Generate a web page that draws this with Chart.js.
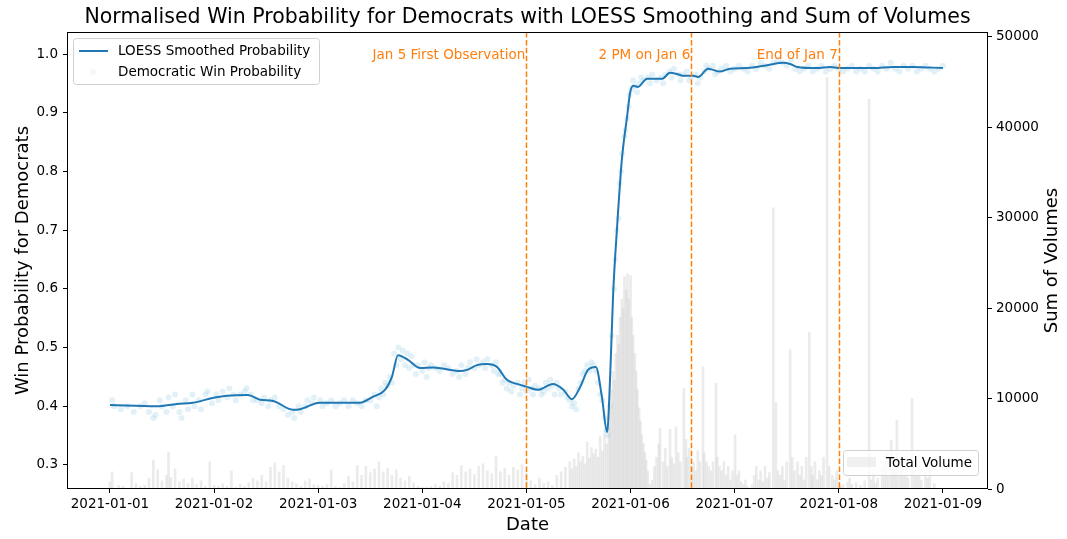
<!DOCTYPE html>
<html><head><meta charset="utf-8">
<script src="https://cdn.jsdelivr.net/npm/chart.js@4.4.1/dist/chart.umd.min.js"></script>
<style>html,body{margin:0;padding:0;background:#fff;}#wrap{width:1067px;height:539px;position:relative;}</style>
</head><body><div id="wrap"><canvas id="c" width="1067" height="539"></canvas></div>
<script>
// x values are hours after 2021-01-01 00:00
const tickHours = [0,24,48,72,96,120,144,168,192];
const tickLabels = ['2021-01-01','2021-01-02','2021-01-03','2021-01-04','2021-01-05','2021-01-06','2021-01-07','2021-01-08','2021-01-09'];
const probTicks = [0.3,0.4,0.5,0.6,0.7,0.8,0.9,1.0];
const volTicks = [0,10000,20000,30000,40000,50000];

const loessHours = [0,10.8,15.4,19.1,23.7,27.0,31.8,34.6,37.6,42.2,43.8,48.4,57.6,60.6,63.4,65.0,66.4,68.7,71.5,74.5,80.7,82.3,84.6,86.9,89.2,91.5,93.8,96.1,98.7,102.1,104.4,106.5,108.4,110.2,112.0,113.4,114.6,115.3,116.0,116.9,118.0,119.2,119.9,120.6,121.7,123.8,127.3,129.1,130.7,132.1,134.4,135.6,137.9,139.0,140.6,142.9,146.9,151.5,155.2,156.8,158.4,163.0,166.0,168.3,175.9,180.5,185.1,192.0];
const loessValues = [0.402,0.400,0.404,0.406,0.414,0.418,0.419,0.411,0.409,0.394,0.395,0.406,0.406,0.416,0.428,0.450,0.487,0.479,0.465,0.466,0.460,0.462,0.470,0.472,0.467,0.445,0.438,0.433,0.428,0.438,0.429,0.412,0.433,0.462,0.467,0.416,0.356,0.450,0.593,0.705,0.820,0.893,0.934,0.946,0.944,0.958,0.958,0.968,0.966,0.963,0.963,0.961,0.975,0.973,0.970,0.975,0.976,0.981,0.985,0.983,0.978,0.976,0.978,0.976,0.976,0.978,0.978,0.976];

const obsPoints = [[0.5,0.41],[1,0.40],[2.5,0.395],[4,0.40],[5.5,0.39],[7,0.40],[8,0.405],[9,0.39],[10,0.38],[10.5,0.385],[11.5,0.41],[12,0.40],[13,0.39],[13.5,0.415],[14.5,0.40],[15,0.42],[16,0.39],[16.5,0.38],[17.5,0.41],[18,0.395],[19,0.42],[19.5,0.40],[20.5,0.41],[21,0.395],[22,0.42],[22.5,0.425],[23.5,0.405],
[24.5,0.42],[25,0.41],[26,0.425],[27,0.415],[27.5,0.43],[28.5,0.42],[29,0.41],[30,0.42],[31,0.425],[31.5,0.43],[32.5,0.42],[33,0.41],[34,0.41],[35,0.405],[35.5,0.415],[36.5,0.40],[37,0.41],[38,0.415],[39,0.40],[40,0.395],[41,0.385],[42,0.39],[42.5,0.38],[43.5,0.40],[44,0.39],[45,0.40],[45.5,0.41],[46.5,0.405],[47,0.415],
[48.5,0.41],[49,0.40],[50,0.405],[51,0.41],[52,0.40],[53,0.405],[54,0.41],[55,0.40],[56,0.41],[57,0.405],[58,0.40],[59,0.41],
[60,0.41],[61,0.42],[61.5,0.40],[62,0.415],[62.5,0.43],[63,0.42],[63.5,0.44],[64,0.435],[64.5,0.45],[65,0.44],[65.5,0.49],[66,0.47],[66.5,0.50],[67,0.48],[67.5,0.495],[68,0.47],[68.5,0.49],[69,0.465],[69.5,0.485],[70,0.47],[70.5,0.455],[71,0.47],[72,0.46],[72.5,0.475],[73,0.45],[73.5,0.465],[74,0.47],
[75,0.465],[76,0.46],[77,0.47],[78,0.465],[79,0.455],[80,0.46],[80.5,0.45],[81,0.47],[82,0.455],[82.5,0.465],[83,0.475],[84,0.465],[84.5,0.48],[85,0.47],[86,0.475],[86.5,0.465],[87,0.48],[88,0.47],[88.5,0.46],[89,0.475],[89.5,0.455],
[90,0.455],[90.5,0.44],[91,0.445],[91.5,0.43],[92,0.44],[92.5,0.425],[93,0.435],[94,0.44],[94.5,0.42],[95,0.43],[95.5,0.44],[96,0.425],[96.5,0.445],[97,0.43],[97.5,0.42],[98,0.435],[99,0.43],[99.5,0.42],[100,0.425],
[100.5,0.44],[101,0.43],[101.5,0.445],[102,0.435],[102.5,0.42],[103,0.44],[103.5,0.43],[104,0.42],[105,0.425],[105.5,0.415],[106,0.41],[106.5,0.40],[107,0.405],[107.5,0.395],[108,0.43],[108.5,0.44],[109,0.455],[109.5,0.46],[110,0.47],[110.5,0.46],[111,0.475],[111.5,0.47],[112,0.46],[112.5,0.44],[113,0.42],[113.5,0.41],[114,0.38],[114.5,0.36],[114.8,0.35],
[115.3,0.40],[115.7,0.52],[116.2,0.60],[116.5,0.65],[116.8,0.70],[117.2,0.72],[117.5,0.78],[117.8,0.80],[118.1,0.83],[118.5,0.86],[118.8,0.87],[119.2,0.89],[119.5,0.91],[119.8,0.93],[120.2,0.94],[120.6,0.955],[121,0.945],[121.5,0.935],[122,0.95],
[122.5,0.96],[123,0.955],[124,0.96],[124.5,0.95],[125,0.965],[126,0.955],[127,0.96],[127.5,0.95],[128,0.965],[129,0.97],[129.5,0.96],[130,0.975],[131,0.965],[131.5,0.955],[132,0.965],[133,0.97],[133.5,0.955],[134,0.96],[135,0.965],[135.5,0.95],[136,0.96],[137,0.97],[137.5,0.98],[138,0.975],[139,0.98],[139.5,0.965],[140,0.97],
[141,0.975],[142,0.98],[143,0.97],[144,0.975],[145,0.98],[146,0.975],[147,0.97],[148,0.98],[149,0.975],[150,0.985],[151,0.98],[152,0.975],[153,0.985],[154,0.99],[155,0.985],[156,0.98],[157,0.99],[158,0.975],[159,0.97],[160,0.975],[161,0.98],[162,0.97],[163,0.975],[164,0.98],[165,0.97],[166,0.975],[167,0.98],[168,0.975],[169,0.97],[170,0.975],[171,0.98],[172,0.97],[173,0.975],[174,0.97],[175,0.98],[176,0.975],[177,0.97],[178,0.98],[179,0.975],[180,0.985],[181,0.975],[182,0.97],[183,0.98],[184,0.975],[185,0.98],[186,0.97],[187,0.975],[188,0.98],[189,0.975],[190,0.97],[191,0.975],[192,0.98]];

const volumePoints = [[0,800],[0.5,1900],[2,400],[3,300],[5,1800],[6,600],[7,300],[8,400],[9,1200],[10,3200],[11,2100],[12,900],[13,1500],[13.5,4100],[14,1300],
[15,2200],[16,800],[17,1100],[18,600],[19,1200],[20,500],[21,900],[22,300],[23,3000],[24,400],
[25,300],[26,600],[27,300],[28,2000],[29,200],[30,500],[31,300],[32,700],[33,1200],[34,900],[35,1500],[36,800],[37,2400],[38,2900],[39,1900],[40,2600],
[41,1200],[42,800],[43,600],[44,300],[45,900],[46,1100],[47,500],[48,400],[49,300],[50,500],[51,2100],[52,300],[53,200],[54,600],[55,1400],[56,800],
[57,2600],[58,1500],[59,2500],[60,1800],[61,2200],[62,3000],[63,1900],[64,2300],[65,1500],[66,2100],[67,1200],[68,900],[69,1400],[70,700],[71,300],[72,200],
[73,200],[74,300],[75,500],[76,300],[77,800],[78,600],[79,1800],[80,1500],[81,2600],[82,1900],[83,2200],[84,1600],[85,2500],[86,2800],[87,2000],[88,1700],[89,3600],[90,1900],[91,2300],[92,1500],[93,2400],[94,2100],[95,2700],[96,1800],
[97,900],[98,500],[99,1200],[100,600],[101,800],[102,400],[103,1500],[104,1900],[105,2400],[106,3000],
[106.5,2200],[107,3300],[107.5,2500],[108,4000],[108.5,3000],[109,3600],[109.5,2800],[110,5200],[110.5,3400],[111,4600],[111.5,3900],[112,4400],[112.5,3500],[113,5800],[113.5,4200],[114,6500],[114.5,5000],
[115,7000],[115.3,9000],[115.6,11000],[116,13000],[116.3,12000],[116.6,15000],[117,17000],[117.3,16000],[117.6,19000],[118,21000],[118.3,20000],[118.6,23500],[119,22000],[119.3,23800],[119.6,21000],[120,23600],[120.3,19000],[120.6,17000],[121,15000],[121.3,13000],[121.6,11000],[122,9000],[122.3,7500],[122.6,6000],[123,5000],[123.3,4000],[123.6,3200],[124,2000],
[124.5,500],[125,1000],[125.5,2500],[126,3500],[126.5,5000],[126.8,6700],[127.5,3000],[128,4500],[128.5,2500],[129.1,6600],[129.5,3500],[130,2800],[130.5,6900],[131,4000],[131.5,3000],[132.3,11100],[132.8,5500],[133,3500],[133.5,4500],[134,2500],[134.5,3000],[135,2000],[135.5,4200],[136,3000],[136.7,13500],[137,4000],[137.5,3000],[138,2500],[138.5,2000],[139,3000],[139.7,11700],[140,3500],[140.5,2500],[141,2000],[141.5,3000],[142,1500],[142.5,2500],[143,1000],[143.5,2000],[144.1,6000],[144.5,1500],[145,2000],[145.5,800],[146,500],[146.5,1000],[147,300],[148,500],[148.5,1500],[149,2500],[149.5,1000],[150,2000],[150.5,800],[151,2500],[151.5,1200],[152,1800],[152.9,31100],[153.5,9600],[154,2000],[154.5,1500],[155,2500],[155.5,1000],[156,3000],[156.8,15400],[157.3,3500],[157.8,2000],[158.5,3000],[159,1500],[159.5,2500],[160,1000],[160.5,3500],[161.2,17300],[161.7,2500],[162,1500],[162.5,3000],[163,1000],[163.5,2000],[164,1500],[164.5,3500],[165.3,45500],[165.8,2500],[166.5,1500],[167,1000],[167.5,2000],[168,800],[168.5,300],[169,500],[170,800],[170.5,1200],[171,500],[172,700],[173,400],[174,900],[175,43100],[175.5,1000],[176,1800],[176.5,700],[177,1200],[178,2500],[178.5,3000],[179,4200],[179.5,1500],[180.1,5400],[180.5,2000],[181,2500],[181.4,7600],[182,2000],[182.5,3000],[183,1500],[183.5,2500],[184,1200],[184.9,10000],[185.5,2000],[186,1500],[186.5,2500],[187,1000],[188,1800],[188.5,1200],[189,2500],[190,600]];

const eventHours = [96, 134, 168];
const eventLabels = ['Jan 5 First Observation', '2 PM on Jan 6', 'End of Jan 7'];

const FONT = 'DejaVu Sans';
const ORANGE = '#ff7f0e';

const overlay = {
  id: 'overlay',
  afterDatasetsDraw(chart) {
    const ctx = chart.ctx, a = chart.chartArea, xs = chart.scales.x;
    ctx.save();
    ctx.strokeStyle = ORANGE; ctx.lineWidth = 1.5; ctx.setLineDash([5.5, 2.4]);
    eventHours.forEach(h => {
      const px = Math.round(xs.getPixelForValue(h)) + 0.5;
      ctx.beginPath(); ctx.moveTo(px, a.top); ctx.lineTo(px, a.bottom); ctx.stroke();
    });
    ctx.setLineDash([]);
    ctx.fillStyle = ORANGE; ctx.font = '13.5px "' + FONT + '"';
    ctx.textAlign = 'right'; ctx.textBaseline = 'middle';
    eventHours.forEach((h, i) => {
      ctx.fillText(eventLabels[i], xs.getPixelForValue(h) - 1, 55);
    });
    ctx.strokeStyle = '#000'; ctx.lineWidth = 1;
    ctx.strokeRect(a.left + 0.5, a.top + 0.5, a.right - a.left - 1, a.bottom - a.top - 1);
    roundBox(ctx, 73.5, 38.5, 246, 46);
    ctx.strokeStyle = '#1f77b4'; ctx.lineWidth = 2;
    ctx.beginPath(); ctx.moveTo(79, 51); ctx.lineTo(108, 51); ctx.stroke();
    ctx.fillStyle = 'rgba(173,216,230,0.15)';
    ctx.beginPath(); ctx.arc(93, 72, 3, 0, Math.PI * 2); ctx.fill();
    ctx.fillStyle = '#000'; ctx.font = '13.5px "' + FONT + '"';
    ctx.textAlign = 'left'; ctx.textBaseline = 'middle';
    ctx.fillText('LOESS Smoothed Probability', 118, 51);
    ctx.fillText('Democratic Win Probability', 118, 72);
    roundBox(ctx, 843.5, 450.5, 135, 25);
    ctx.fillStyle = 'rgba(211,211,211,0.35)';
    ctx.fillRect(847, 457, 29, 10);
    ctx.fillStyle = '#000';
    ctx.fillText('Total Volume', 886, 463);
    ctx.textAlign = 'center';
    ctx.font = '20.5px "' + FONT + '"';
    ctx.fillText('Normalised Win Probability for Democrats with LOESS Smoothing and Sum of Volumes', (a.left + a.right) / 2, 18);
    ctx.font = '18px "' + FONT + '"';
    ctx.fillText('Date', (a.left + a.right) / 2, 525);
    const cy = (a.top + a.bottom) / 2;
    ctx.save(); ctx.translate(23, cy); ctx.rotate(-Math.PI / 2); ctx.fillText('Win Probability for Democrats', 0, 0); ctx.restore();
    ctx.save(); ctx.translate(1052, cy); ctx.rotate(-Math.PI / 2); ctx.fillText('Sum of Volumes', 0, 0); ctx.restore();
    ctx.restore();
  }
};
function roundBox(ctx, x, y, w, h) {
  const r = 3;
  ctx.beginPath();
  ctx.moveTo(x + r, y); ctx.lineTo(x + w - r, y); ctx.arcTo(x + w, y, x + w, y + r, r);
  ctx.lineTo(x + w, y + h - r); ctx.arcTo(x + w, y + h, x + w - r, y + h, r);
  ctx.lineTo(x + r, y + h); ctx.arcTo(x, y + h, x, y + h - r, r);
  ctx.lineTo(x, y + r); ctx.arcTo(x, y, x + r, y, r);
  ctx.closePath();
  ctx.fillStyle = 'rgba(255,255,255,0.8)'; ctx.fill();
  ctx.strokeStyle = '#d0d0d0'; ctx.lineWidth = 1; ctx.stroke();
}

const tickFont = { family: FONT, size: 13.5 };
const axisGrid = { display: true, drawOnChartArea: false, drawTicks: true, tickLength: 4, tickColor: '#000', tickWidth: 1 };

new Chart(document.getElementById('c'), {
  type: 'bar',
  data: {
    datasets: [
      { type: 'line', label: 'LOESS Smoothed Probability', data: loessHours.map((h, i) => ({ x: h, y: loessValues[i] })),
        borderColor: '#1f77b4', borderWidth: 2, pointRadius: 0, cubicInterpolationMode: 'monotone', fill: false, yAxisID: 'y', order: 0 },
      { type: 'scatter', label: 'Democratic Win Probability', data: obsPoints.map(p => ({ x: p[0], y: p[1] })),
        backgroundColor: 'rgba(160,210,228,0.3)', borderWidth: 0, pointRadius: 3, yAxisID: 'y', order: 1 },
      { type: 'bar', label: 'Total Volume', data: volumePoints.map(p => ({ x: p[0], y: p[1] })),
        backgroundColor: 'rgba(211,211,211,0.45)', borderWidth: 0, barThickness: 2, grouped: false, yAxisID: 'y2', order: 2 }
    ]
  },
  options: {
    responsive: false, animation: false, devicePixelRatio: 1,
    layout: { padding: { top: 32, left: 0, right: 0, bottom: 0 } },
    plugins: { legend: { display: false }, tooltip: { enabled: false }, title: { display: false } },
    scales: {
      x: { type: 'linear', min: -9.9, max: 202.4, offset: false,
        afterBuildTicks: s => { s.ticks = tickHours.map(v => ({ value: v })); },
        afterFit: s => { s.height = 50; },
        ticks: { font: tickFont, color: '#000', padding: 3, maxRotation: 0, autoSkip: false,
          callback: v => tickLabels[tickHours.indexOf(v)] },
        grid: Object.assign({ offset: false }, axisGrid), border: { display: false } },
      y: { type: 'linear', position: 'left', min: 0.259, max: 1.0375,
        afterBuildTicks: s => { s.ticks = probTicks.map(v => ({ value: v })); },
        afterFit: s => { s.width = 67; },
        ticks: { font: tickFont, color: '#000', padding: 5, callback: v => v.toFixed(1) },
        grid: axisGrid, border: { display: false } },
      y2: { type: 'linear', position: 'right', min: 0, max: 50550,
        afterBuildTicks: s => { s.ticks = volTicks.map(v => ({ value: v })); },
        afterFit: s => { s.width = 79; },
        ticks: { font: tickFont, color: '#000', padding: 4, callback: v => String(v) },
        grid: axisGrid, border: { display: false } }
    }
  },
  plugins: [overlay]
});
</script></body></html>
